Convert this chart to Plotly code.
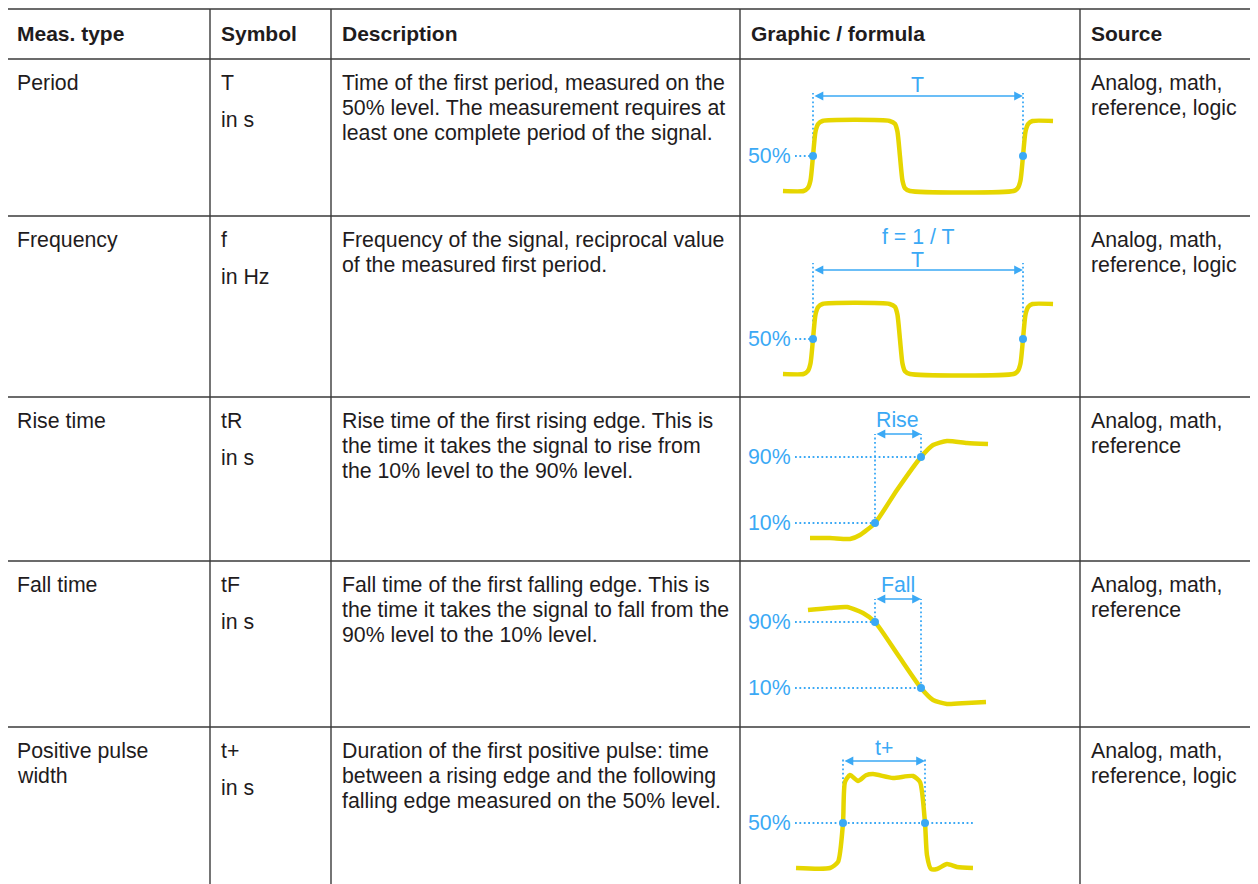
import plotly.graph_objects as go

W, H = 1258, 884
OFF = 8  # page body margin of the html page
FONT = "Liberation Sans, Arial, Helvetica, sans-serif"
TXT = "#1f1c1d"
GRID = "#3a3a3a"
BLUE = "#3ba9f5"
YEL = "#e6d600"
FS = 21.3

# ---------------- table content ----------------
headers = ["Meas. type", "Symbol", "Description", "Graphic / formula", "Source"]
meas_types = [["Period"], ["Frequency"], ["Rise time"], ["Fall time"], ["Positive pulse", "width"]]
symbols = ["T", "f", "tR", "tF", "t+"]
units = ["in s", "in Hz", "in s", "in s", "in s"]
descriptions = [
    ["Time of the first period, measured on the",
     "50% level. The measurement requires at",
     "least one complete period of the signal."],
    ["Frequency of the signal, reciprocal value",
     "of the measured first period."],
    ["Rise time of the first rising edge. This is",
     "the time it takes the signal to rise from",
     "the 10% level to the 90% level."],
    ["Fall time of the first falling edge. This is",
     "the time it takes the signal to fall from the",
     "90% level to the 10% level."],
    ["Duration of the first positive pulse: time",
     "between a rising edge and the following",
     "falling edge measured on the 50% level."],
]
sources = [["Analog, math,", "reference, logic"],
           ["Analog, math,", "reference, logic"],
           ["Analog, math,", "reference"],
           ["Analog, math,", "reference"],
           ["Analog, math,", "reference, logic"]]

# ---------------- waveform data ----------------
# time in units of the measured interval, level as fraction of amplitude
period_t = [-0.143, -0.045, -0.025, -0.012, 0.0, 0.012, 0.025, 0.045, 0.365, 0.390, 0.402,
            0.414, 0.426, 0.438, 0.462, 0.955, 0.975, 0.988, 1.0, 1.012, 1.025, 1.045, 1.143]
period_lvl = [0, 0, 0.04, 0.15, 0.5, 0.85, 0.96, 1, 1, 0.96, 0.85,
              0.5, 0.15, 0.04, 0, 0, 0.04, 0.15, 0.5, 0.85, 0.96, 1, 1]
freq_t = period_t
freq_lvl = period_lvl

rise_t = [-1.413, -0.978, -0.543, -0.326, 0.0, 0.478, 1.0, 1.261, 1.565, 2.0, 2.457]
rise_lvl = [-0.082, -0.082, -0.094, -0.045, 0.1, 0.5, 0.9, 1.045, 1.094, 1.07, 1.058]

fall_t = [-1.457, -0.978, -0.609, -0.261, 0.0, 0.5, 1.0, 1.261, 1.565, 2.0, 2.413]
fall_lvl = [1.045, 1.07, 1.082, 1.009, 0.9, 0.5, 0.1, -0.045, -0.094, -0.082, -0.07]

pulse_t = [-0.573, -0.159, -0.061, 0.0, 0.024, 0.085, 0.183, 0.28, 0.366, 0.610, 0.854,
           0.939, 1.0, 1.024, 1.073, 1.146, 1.268, 1.390, 1.585]
pulse_lvl = [0, 0, 0.067, 0.5, 0.956, 1.033, 0.967, 1.03, 1.044, 1.0, 1.022,
             0.956, 0.5, 0.144, -0.011, -0.011, 0.044, 0.011, 0]

mark_t = [[0, 1], [0, 1], [0, 1], [0, 1], [0, 1]]
mark_lvl = [[0.5, 0.5], [0.5, 0.5], [0.1, 0.9], [0.9, 0.1], [0.5, 0.5]]
ref_levels = [[("50%", 0.5)], [("50%", 0.5)], [("90%", 0.9), ("10%", 0.1)],
              [("90%", 0.9), ("10%", 0.1)], [("50%", 0.5)]]
span_labels = ["T", "T", "Rise", "Fall", "t+"]
formula_label = "f = 1 / T"

waves = [(period_t, period_lvl), (freq_t, freq_lvl), (rise_t, rise_lvl),
         (fall_t, fall_lvl), (pulse_t, pulse_lvl)]

# ---------------- layout geometry (pixels of the page) ----------------
col_x = [6, 210, 331, 740, 1080]
row_y = [9, 59, 216, 397, 561, 727]
pad = 9
gmap = [dict(px=(813, 1023), py=(191, 121)),
        dict(px=(813, 1023), py=(374, 304)),
        dict(px=(875, 921), py=(531.25, 448.75)),
        dict(px=(875, 921), py=(696.25, 613.75)),
        dict(px=(843, 925), py=(868, 778))]
arrow_py = [96, 270, 434, 599, 761]
label_py = [85, 260, 420, 585, 748]
vert_top_py = [93, 263, 434, 599, 758]
ref_end_px = [None, None, None, None, 975]
lab_right_px = 793
ref_start_px = 795

fig = go.Figure()
ann = []
shapes = []


def text(x, y, s, color=TXT, xanchor="left", xref="x", yref="y", bold=False, size=FS):
    ann.append(dict(x=x, y=y, xref=xref, yref=yref, text=(f"<b>{s}</b>" if bold else s),
                    showarrow=False, xanchor=xanchor, yanchor="middle",
                    font=dict(family=FONT, size=size, color=color)))


# table grid
for yv in row_y:
    shapes.append(dict(type="line", xref="x", yref="y", x0=col_x[0], x1=W + OFF + 2, y0=yv, y1=yv,
                       line=dict(color=GRID, width=1.4)))
for xv in col_x:
    shapes.append(dict(type="line", xref="x", yref="y", x0=xv, x1=xv, y0=row_y[0], y1=H + OFF + 2,
                       line=dict(color=GRID, width=1.4)))

# header
for c, h in enumerate(headers):
    text(col_x[c] + pad, 33.5, h, bold=True, size=21)

# body text
for r in range(5):
    top = row_y[r + 1]
    y1 = top + 24
    for k, s in enumerate(meas_types[r]):
        text(col_x[0] + pad, y1 + 25 * k, s)
    text(col_x[1] + pad, y1, symbols[r])
    text(col_x[1] + pad, y1 + 37, units[r])
    for k, s in enumerate(descriptions[r]):
        text(col_x[2] + pad, y1 + 25 * k, s)
    for k, s in enumerate(sources[r]):
        text(col_x[4] + pad, y1 + 25 * k, s)

# graphics
layout_axes = {}
for i in range(5):
    n = i + 2
    g = gmap[i]
    px0, px1 = g["px"]
    py0, py1 = g["py"]
    sx = (px1 - px0)
    sy = (py0 - py1)
    left, right = col_x[3] + 1, col_x[4] - 1
    top = row_y[i + 1] + 1
    bottom = min((row_y[i + 2] if i + 2 < len(row_y) else H + OFF) - 1, H + OFF)
    tx = lambda p: (p - px0) / sx
    ly = lambda p: (py0 - p) / sy
    layout_axes[f"xaxis{n}"] = dict(domain=[(left - OFF) / W, (right - OFF) / W],
                                    range=[tx(left), tx(right)],
                                    visible=False, anchor=f"y{n}", fixedrange=True)
    layout_axes[f"yaxis{n}"] = dict(domain=[max(0, 1 - (bottom - OFF) / H), 1 - (top - OFF) / H],
                                    range=[ly(bottom), ly(top)],
                                    visible=False, anchor=f"x{n}", fixedrange=True)
    xr, yr = f"x{n}", f"y{n}"
    dot = dict(color=BLUE, width=1.8, dash="1.8px,2.6px")
    for (lab, lv) in ref_levels[i]:
        tm = mark_t[i][mark_lvl[i].index(lv)]
        tend = tx(ref_end_px[i]) if ref_end_px[i] else tm
        shapes.append(dict(type="line", xref=xr, yref=yr, x0=tx(ref_start_px), x1=tend,
                           y0=lv, y1=lv, line=dot, layer="below"))
        text(tx(lab_right_px), lv, lab, color=BLUE, xanchor="right", xref=xr, yref=yr)
    for tm, lv in zip(mark_t[i], mark_lvl[i]):
        shapes.append(dict(type="line", xref=xr, yref=yr, x0=tm, x1=tm,
                           y0=lv, y1=ly(vert_top_py[i]), line=dot, layer="below"))
    ya = ly(arrow_py[i])
    ann.append(dict(x=mark_t[i][1], y=ya, ax=mark_t[i][0], ay=ya, xref=xr, yref=yr,
                    axref=xr, ayref=yr, text="", showarrow=True, arrowhead=2,
                    arrowside="end+start", arrowsize=1.1, arrowwidth=1.6, arrowcolor=BLUE,
                    standoff=0, startstandoff=0))
    tmid = (mark_t[i][0] + mark_t[i][1]) / 2
    text(tmid, ly(label_py[i]), span_labels[i], color=BLUE, xanchor="center", xref=xr, yref=yr)
    if i == 1:
        text(tmid, ly(label_py[i] - 23), formula_label, color=BLUE, xanchor="center",
             xref=xr, yref=yr)
    wt, wl = waves[i]
    fig.add_trace(go.Scatter(x=wt, y=wl, xaxis=xr, yaxis=yr, mode="lines",
                             line=dict(color=YEL, width=4.5, shape="spline", smoothing=0.6),
                             hoverinfo="skip", showlegend=False))
    fig.add_trace(go.Scatter(x=mark_t[i], y=mark_lvl[i], xaxis=xr, yaxis=yr, mode="markers",
                             marker=dict(color=BLUE, size=8), hoverinfo="skip", showlegend=False))

fig.update_layout(
    width=W, height=H, margin=dict(l=0, r=0, t=0, b=0),
    paper_bgcolor="white", plot_bgcolor="rgba(0,0,0,0)", showlegend=False,
    xaxis=dict(domain=[0, 1], range=[OFF, W + OFF], visible=False, fixedrange=True),
    yaxis=dict(domain=[0, 1], range=[H + OFF, OFF], visible=False, fixedrange=True),
    annotations=ann, shapes=shapes, **layout_axes,
)

fig.write_html("out.html")
